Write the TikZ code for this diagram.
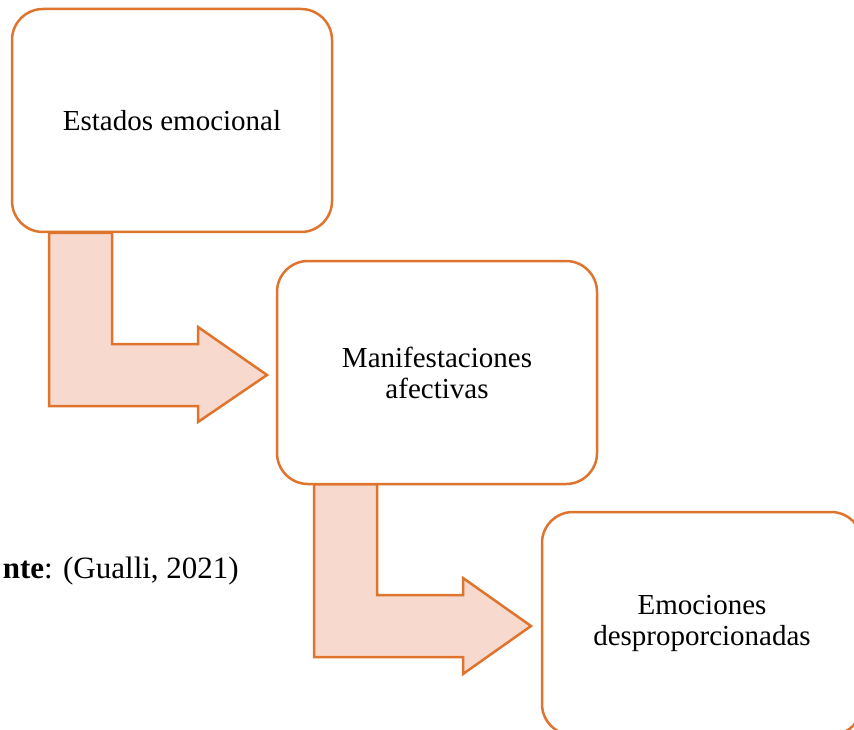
\documentclass[tikz,border=0pt]{standalone}
\usepackage{fontspec}
\setmainfont{Liberation Serif}
\definecolor{orstroke}{RGB}{222,116,46}
\definecolor{orfill}{RGB}{248,217,205}
\begin{document}
\begin{tikzpicture}[x=1pt,y=-1pt,
  boxstyle/.style={draw=orstroke, line width=2.5pt, fill=white, rounded corners=31pt,
    minimum width=320pt, minimum height=223pt, inner sep=0pt, align=center,
    font=\fontsize{29}{31}\selectfont},
  bentarrow/.style={draw=orstroke, fill=orfill, line width=2.5pt, line join=miter}]
\useasboundingbox (0,0) rectangle (854,730);
\clip (0,0) rectangle (854,730);
% arrows
\draw[bentarrow] (49,233) -- (112,233) -- (112,344) -- (198,344) -- (198,327) -- (267,375) -- (198,422) -- (198,406) -- (49,406) -- cycle;
\draw[bentarrow] (314,484) -- (377,484) -- (377,595) -- (463,595) -- (463,578) -- (531,626) -- (463,674) -- (463,657) -- (314,657) -- cycle;
% boxes
\node[boxstyle] (b1) at (172,120.5) {Estados emocional};
\node[boxstyle] (b2) at (437,372.5) {Manifestaciones\\afectivas};
\node[boxstyle] (b3) at (702,623.5) {Emociones\\desproporcionadas};
% source text
\node[anchor=base east, inner sep=0pt, font=\fontsize{31}{34}\selectfont] (src) at (239,578) {\textbf{nte}: (Gualli, 2021)};
\end{tikzpicture}
\end{document}
